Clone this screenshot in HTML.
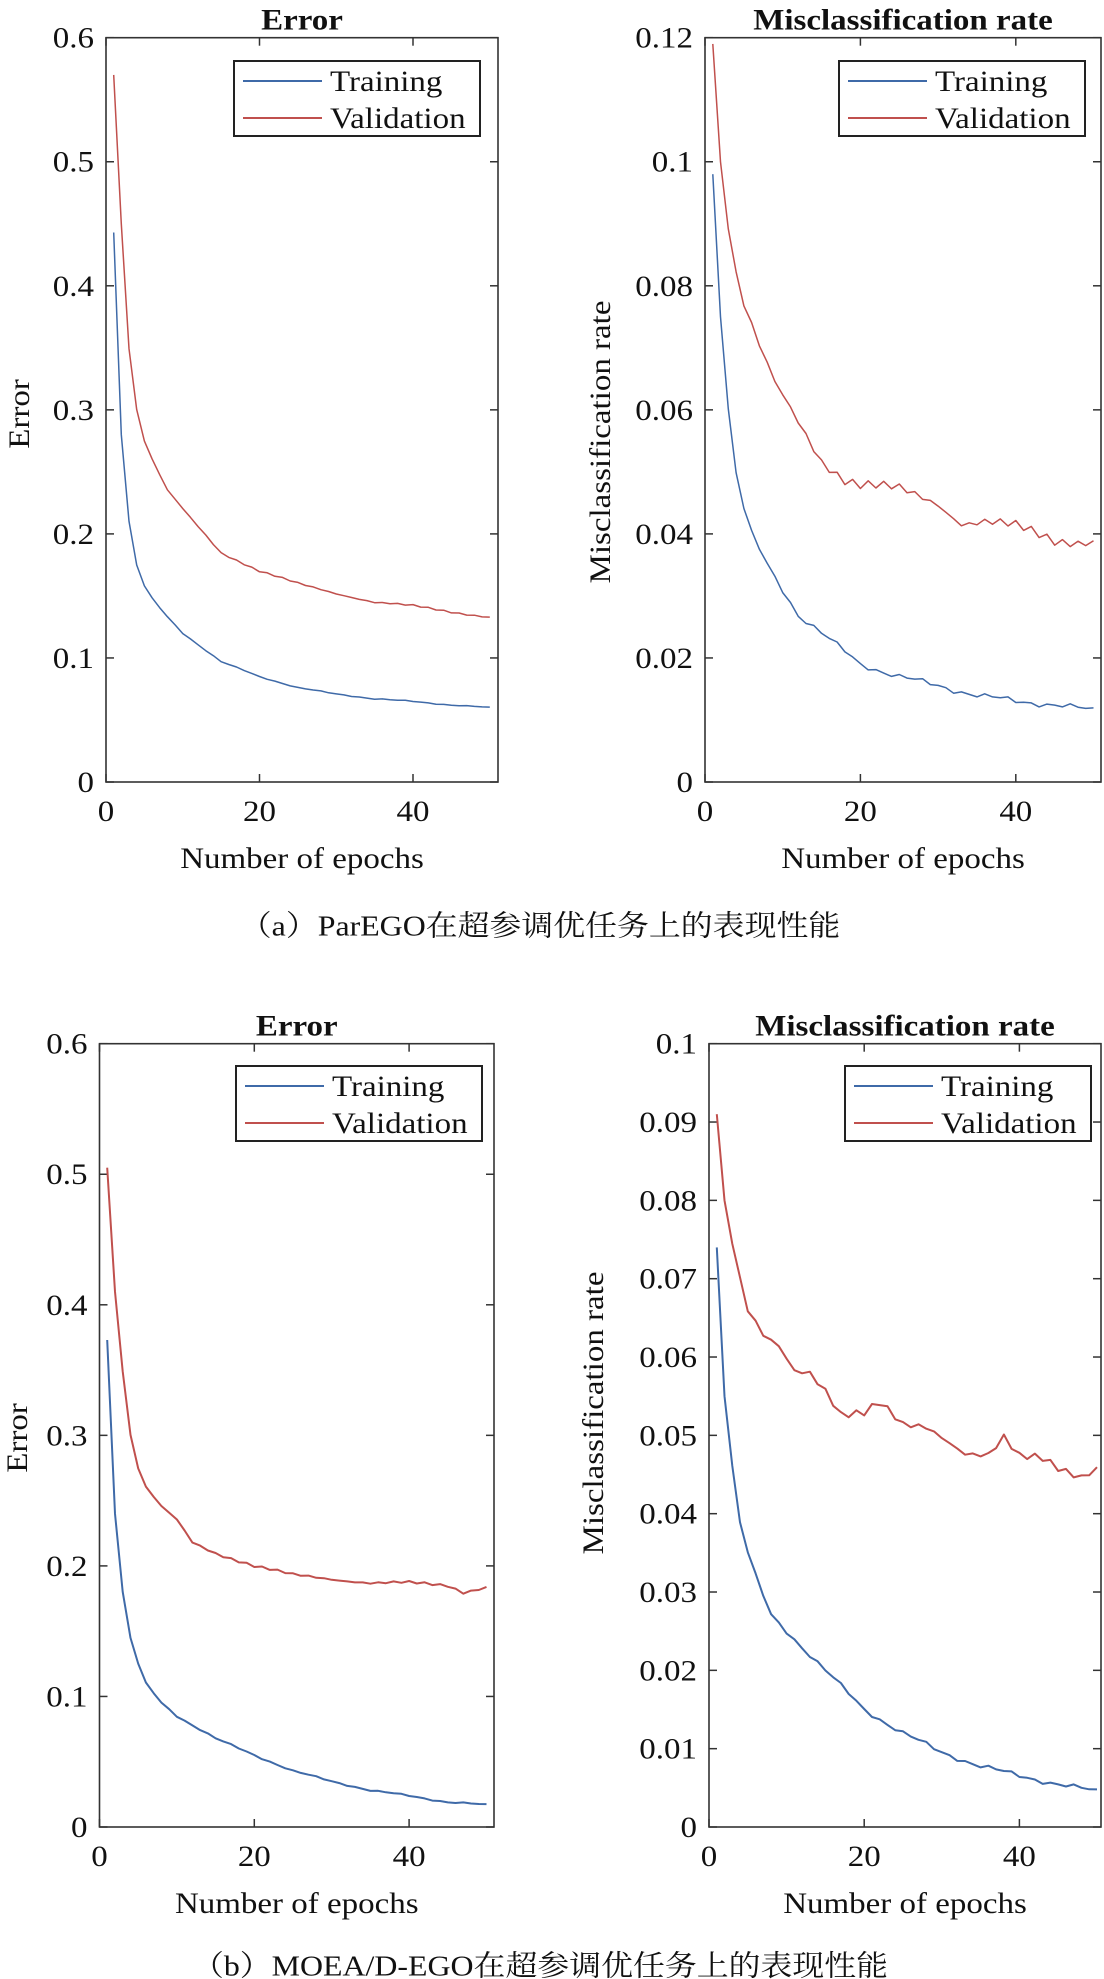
<!DOCTYPE html>
<html><head><meta charset="utf-8"><style>
html,body{margin:0;padding:0;background:#fff;width:1104px;height:1979px;overflow:hidden}
svg text{font-family:"Liberation Serif","Noto Serif CJK SC",serif;fill:#111}
</style></head><body>
<svg id="s" width="1104" height="1979" xmlns="http://www.w3.org/2000/svg"></svg>
<script>
const S=document.getElementById('s');let h='';
const SX=1.1;
function T(x,y,t,o={}){const fs=o.fs||30,a=o.a||'middle',w=o.w||'normal',r=o.r||0;
 h+=`<text transform="translate(${x},${y}) rotate(${r}) scale(${SX},1)" font-size="${fs}" text-anchor="${a}" font-weight="${w}" dominant-baseline="central">${t}</text>`;}
function interp(pts,x){for(let i=0;i<pts.length-1;i++){const[a,va]=pts[i],[b,vb]=pts[i+1];if(x>=a&&x<=b){const t=(x-a)/(b-a);return va+(vb-va)*t;}}return pts[pts.length-1][1];}
function panel(p){
 const {L,R,Tp,B,ymax,yt,ylab,title,xs,tr,va,noise,lw,lx,ly}=p;
 const X=v=>L+v*xs, Y=v=>B-(v/ymax)*(B-Tp);
 h+=`<rect x="${L}" y="${Tp}" width="${R-L}" height="${B-Tp}" fill="none" stroke="#333" stroke-width="1.6"/>`;
 yt.forEach(v=>{const y=Y(v);h+=`<line x1="${L}" y1="${y}" x2="${L+8}" y2="${y}" stroke="#333" stroke-width="1.5"/><line x1="${R}" y1="${y}" x2="${R-8}" y2="${y}" stroke="#333" stroke-width="1.5"/>`;
  T(L-12,y,String(v),{a:'end'});});
 [0,20,40].forEach(v=>{const x=X(v);h+=`<line x1="${x}" y1="${B}" x2="${x}" y2="${B-8}" stroke="#333" stroke-width="1.5"/><line x1="${x}" y1="${Tp}" x2="${x}" y2="${Tp+8}" stroke="#333" stroke-width="1.5"/>`;
  T(x,B+29,String(v));});
 T((L+R)/2,Tp-18,title,{w:'bold',fs:30});
 T((L+R)/2,B+76,'Number of epochs');
 T(p.ylx,p.yly,ylab,{r:-90});
 function line(pts,col,amp,seed){let d='';for(let e=1;e<=50;e++){let v=interp(pts,e);if(e>2)v+=amp*Math.sin(e*seed)*Math.cos(e*1.7+seed);d+=(e==1?'M':'L')+X(e).toFixed(1)+','+Y(v).toFixed(1);}
  h+=`<path d="${d}" fill="none" stroke="${col}" stroke-width="${lw}" stroke-linejoin="round"/>`;}
 line(tr,'#3f6aa8',noise*0.5,2.3);line(va,'#c0504d',noise,1.3);
 h+=`<rect x="${lx}" y="${ly}" width="246" height="75" fill="#fff" stroke="#222" stroke-width="2"/>`;
 h+=`<line x1="${lx+9}" y1="${ly+20}" x2="${lx+88}" y2="${ly+20}" stroke="#3f6aa8" stroke-width="2"/>`;
 h+=`<line x1="${lx+9}" y1="${ly+57}" x2="${lx+88}" y2="${ly+57}" stroke="#c0504d" stroke-width="2"/>`;
 T(lx+96,ly+20,'Training',{a:'start'});T(lx+96,ly+57,'Validation',{a:'start'});
}
panel({L:106,R:498,Tp:37.7,B:782,ymax:0.6,yt:[0,0.1,0.2,0.3,0.4,0.5,0.6],ylab:'Error',title:'Error',xs:7.675,lw:1.5,noise:0.001,lx:234,ly:61,ylx:19,yly:414,
 tr:[[1,.443],[2,.28],[3,.21],[4,.175],[5,.158],[6,.148],[8,.133],[10,.12],[15,.097],[20,.085],[25,.076],[30,.071],[35,.067],[40,.065],[45,.062],[50,.060]],
 va:[[1,.57],[2,.45],[3,.35],[4,.30],[5,.275],[6,.26],[8,.235],[10,.22],[15,.185],[20,.17],[25,.16],[30,.152],[35,.145],[40,.142],[45,.137],[50,.133]]});
panel({L:705,R:1101,Tp:37.7,B:782,ymax:0.12,yt:[0,0.02,0.04,0.06,0.08,0.1,0.12],ylab:'Misclassification rate',title:'Misclassification rate',xs:7.77,lw:1.5,noise:0.0012,lx:839,ly:61,ylx:600,yly:442,
 tr:[[1,.098],[2,.075],[3,.06],[4,.05],[5,.044],[6,.04],[8,.035],[10,.031],[12,.027],[15,.024],[17,.022],[20,.019],[25,.017],[30,.0155],[35,.014],[40,.013],[45,.0125],[50,.0115]],
 va:[[1,.119],[2,.10],[3,.09],[4,.082],[5,.077],[7,.07],[9,.064],[11,.06],[13,.056],[15,.052],[18,.049],[20,.048],[25,.047],[30,.045],[33,.042],[36,.042],[40,.041],[45,.039],[50,.039]]});
panel({L:99.5,R:494,Tp:1043.7,B:1827,ymax:0.6,yt:[0,0.1,0.2,0.3,0.4,0.5,0.6],ylab:'Error',title:'Error',xs:7.74,lw:2,noise:0.0015,lx:236,ly:1066,ylx:17,yly:1438,
 tr:[[1,.373],[2,.24],[3,.18],[4,.145],[5,.125],[6,.11],[8,.095],[10,.085],[15,.068],[20,.055],[25,.043],[30,.035],[35,.028],[40,.024],[45,.019],[50,.017]],
 va:[[1,.505],[2,.41],[3,.35],[4,.30],[5,.275],[6,.26],[8,.245],[10,.235],[12,.218],[15,.21],[20,.2],[25,.193],[30,.19],[35,.187],[40,.187],[45,.185],[47,.18],[50,.184]]});
panel({L:709,R:1101,Tp:1043.7,B:1827,ymax:0.1,yt:[0,0.01,0.02,0.03,0.04,0.05,0.06,0.07,0.08,0.09,0.1],ylab:'Misclassification rate',title:'Misclassification rate',xs:7.76,lw:2,noise:0.0008,lx:845,ly:1066,ylx:593,yly:1413,
 tr:[[1,.074],[2,.055],[3,.046],[4,.039],[5,.035],[6,.032],[8,.027],[10,.025],[15,.02],[20,.015],[25,.012],[30,.0095],[35,.0078],[40,.0065],[45,.0055],[50,.0045]],
 va:[[1,.091],[2,.08],[3,.075],[4,.07],[5,.066],[7,.0625],[9,.061],[11,.058],[13,.058],[15,.056],[17,.053],[20,.053],[22,.054],[25,.051],[28,.051],[30,.05],[33,.048],[36,.0475],[38,.0495],[40,.047],[43,.047],[45,.046],[48,.045],[50,.046]]});
T(540,926,'（a）ParEGO在超参调优任务上的表现性能',{fs:29});
T(540,1966,'（b）MOEA/D-EGO在超参调优任务上的表现性能',{fs:29});
S.innerHTML=h;
</script>
</body></html>
